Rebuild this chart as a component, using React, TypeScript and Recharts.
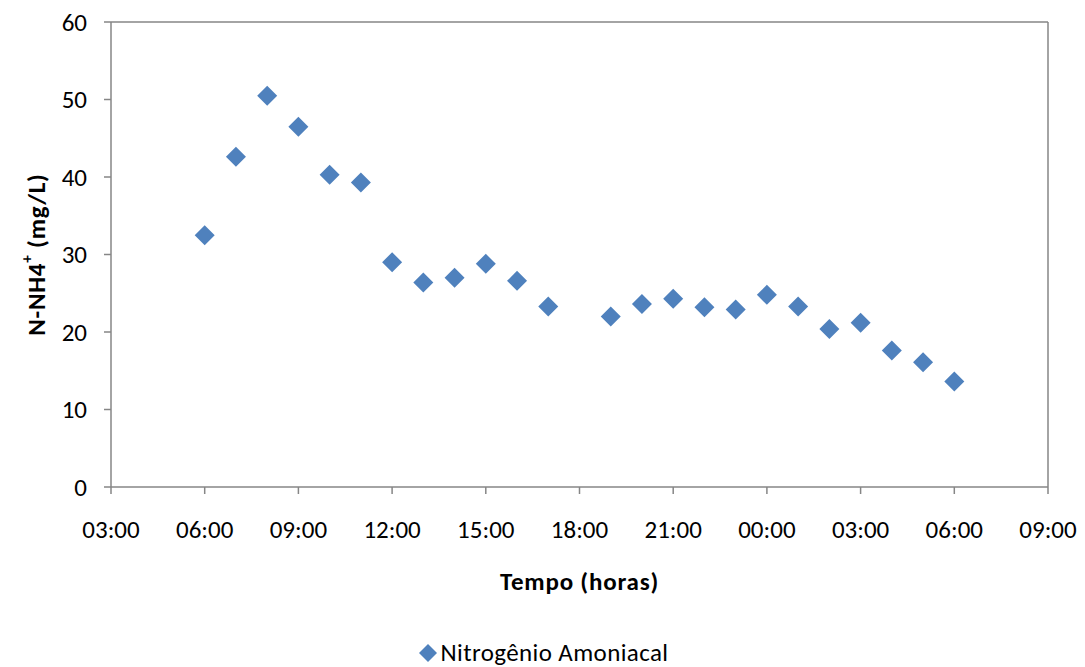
import { Legend, Scatter, ScatterChart, XAxis, YAxis, Label, ReferenceLine } from "recharts";

// hours counted from 00:00 of the first day (24 = 00:00 next day)
const hours = [6, 7, 8, 9, 10, 11, 12, 13, 14, 15, 16, 17, 19, 20, 21, 22, 23, 24, 25, 26, 27, 28, 29, 30];
const nh4 = [32.5, 42.6, 50.5, 46.5, 40.3, 39.3, 29.0, 26.4, 27.0, 28.8, 26.6, 23.3, 22.0, 23.6, 24.3, 23.2, 22.9, 24.8, 23.3, 20.4, 21.2, 17.6, 16.1, 13.6];
const xTicks = [3, 6, 9, 12, 15, 18, 21, 24, 27, 30, 33];
const yTicks = [0, 10, 20, 30, 40, 50, 60];

const data = hours.map((h, i) => ({ h, v: nh4[i] }));

const FONT = "Calibri, Carlito, Lato, sans-serif";
const BLUE = "#4F81BD";
const AXIS = "#868686";

const fmtHour = (h: number) => String(h % 24).padStart(2, "0") + ":00";

const Diamond = (props: any) => {
  const { cx, cy } = props;
  const r = 10;
  return <polygon points={`${cx},${cy - r} ${cx + r},${cy} ${cx},${cy + r} ${cx - r},${cy}`} fill={BLUE} />;
};

const YTitle = (props: any) => {
  const { viewBox } = props;
  const cx = viewBox.x - 15;
  const cy = viewBox.y + viewBox.height / 2;
  return (
    <text x={cx} y={cy} transform={`rotate(-90 ${cx} ${cy})`} textAnchor="middle" dominantBaseline="central"
      fontFamily={FONT} fontWeight="bold" fontSize={25} letterSpacing={0.8} fill="#000">
      N-NH4<tspan baselineShift="super" fontSize={15}>+</tspan><tspan> (mg/L)</tspan>
    </text>
  );
};

const LegendBox = () => (
  <div style={{ display: "flex", justifyContent: "center", alignItems: "center", fontFamily: FONT, fontSize: 25, letterSpacing: 0.4, color: "#000" }}>
    <svg width={22} height={22} style={{ marginRight: 2 }}>
      <polygon points="11,2 20,11 11,20 2,11" fill={BLUE} />
    </svg>
    <span>Nitrogênio Amoniacal</span>
  </div>
);

export default function App() {
  return (
    <div style={{ position: "absolute", left: 0, top: 0, background: "#fff" }}>
      <ScatterChart width={1085} height={667} margin={{ top: 22, right: 37, bottom: 80, left: 51 }}>
        <XAxis
          type="number"
          dataKey="h"
          domain={[3, 33]}
          ticks={xTicks}
          tickFormatter={fmtHour}
          height={100}
          stroke={AXIS}
          strokeWidth={1.5}
          tickSize={7}
          tickMargin={26}
          tick={{ fill: "#000", fontSize: 25, fontFamily: FONT }}
          interval={0}
        >
          <Label value="Tempo (horas)" position="insideBottom" offset={-3} fill="#000" fontSize={25} letterSpacing={0.8} fontWeight="bold" fontFamily={FONT} />
        </XAxis>
        <YAxis
          type="number"
          dataKey="v"
          domain={[0, 60]}
          ticks={yTicks}
          width={60}
          stroke={AXIS}
          strokeWidth={1.5}
          tickSize={7}
          tickMargin={17}
          tick={{ fill: "#000", fontSize: 25, fontFamily: FONT }}
          interval={0}
        >
          <Label content={<YTitle />} />
        </YAxis>
        <ReferenceLine y={60} stroke={AXIS} strokeWidth={1.5} />
        <ReferenceLine x={33} stroke={AXIS} strokeWidth={1.5} />
        <Legend
          layout="horizontal"
          align="center"
          verticalAlign="middle"
          content={<LegendBox />}
          wrapperStyle={{ top: 637, left: 0, width: 1085 }}
        />
        <Scatter data={data} name="Nitrogênio Amoniacal" fill={BLUE} shape={<Diamond />} isAnimationActive={false} />
      </ScatterChart>
    </div>
  );
}
